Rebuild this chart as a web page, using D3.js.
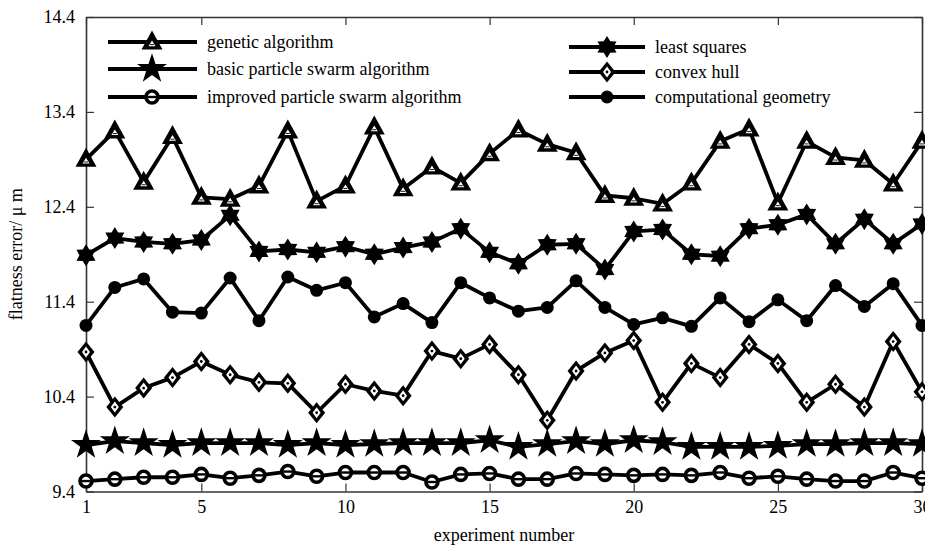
<!DOCTYPE html>
<html>
<head>
<meta charset="utf-8">
<script src="https://cdn.jsdelivr.net/npm/d3@7"></script>
<style>
  body { margin: 0; background: #fff; }
  text { font-family: "Liberation Serif", "Times New Roman", serif; fill: #000; }
</style>
</head>
<body>
<div id="chart"></div>
<script>
const experiments = d3.range(1, 31);
const xTicks = [1, 5, 10, 15, 20, 25, 30];
const yTicks = [9.4, 10.4, 11.4, 12.4, 13.4, 14.4];

const genetic = [12.90, 13.20, 12.66, 13.14, 12.50, 12.48, 12.62, 13.20, 12.46, 12.62,
  13.24, 12.59, 12.82, 12.65, 12.96, 13.21, 13.06, 12.97, 12.52, 12.49,
  12.43, 12.65, 13.09, 13.22, 12.44, 13.09, 12.92, 12.89, 12.64, 13.09];
const basicPSO = [9.89, 9.93, 9.91, 9.89, 9.91, 9.91, 9.91, 9.89, 9.91, 9.89,
  9.90, 9.91, 9.91, 9.91, 9.94, 9.87, 9.90, 9.93, 9.90, 9.94,
  9.92, 9.87, 9.87, 9.87, 9.88, 9.90, 9.90, 9.91, 9.91, 9.90];
const improvedPSO = [9.51, 9.53, 9.55, 9.55, 9.58, 9.54, 9.57, 9.61, 9.56, 9.60,
  9.60, 9.60, 9.50, 9.58, 9.59, 9.53, 9.53, 9.59, 9.58, 9.57,
  9.58, 9.57, 9.60, 9.54, 9.56, 9.53, 9.51, 9.51, 9.60, 9.54];
const leastSquares = [11.89, 12.07, 12.03, 12.01, 12.05, 12.31, 11.93, 11.95, 11.92, 11.98,
  11.90, 11.97, 12.03, 12.17, 11.92, 11.80, 12.00, 12.01, 11.74, 12.14,
  12.16, 11.90, 11.88, 12.17, 12.21, 12.32, 12.01, 12.27, 12.01, 12.22];
const convexHull = [10.87, 10.29, 10.49, 10.60, 10.77, 10.63, 10.55, 10.54, 10.23, 10.53,
  10.46, 10.41, 10.88, 10.80, 10.95, 10.63, 10.15, 10.67, 10.86, 10.99,
  10.34, 10.75, 10.60, 10.95, 10.75, 10.34, 10.53, 10.29, 10.98, 10.45];
const compGeometry = [11.15, 11.55, 11.64, 11.29, 11.28, 11.65, 11.20, 11.66, 11.52, 11.60,
  11.24, 11.38, 11.18, 11.60, 11.44, 11.30, 11.34, 11.62, 11.34, 11.16,
  11.23, 11.14, 11.44, 11.19, 11.42, 11.20, 11.57, 11.35, 11.59, 11.15];

const seriesNames = ["genetic algorithm", "basic particle swarm algorithm", "improved particle swarm algorithm",
  "least squares", "convex hull", "computational geometry"];
const seriesValues = [genetic, basicPSO, improvedPSO, leastSquares, convexHull, compGeometry];
const seriesMarkers = ["triangle", "star", "circleBar", "star6", "diamondDot", "dot"];

const width = 925, height = 548;
const margin = {top: 17, right: 3, bottom: 56.5, left: 86};

const svg = d3.select("#chart").append("svg")
  .attr("width", width)
  .attr("height", height);

const x = d3.scaleLinear().domain([1, 30]).range([margin.left, width - margin.right]);
const y = d3.scaleLinear().domain([9.4, 14.4]).range([height - margin.bottom, margin.top]);

// frame + inward ticks
const axisColor = "#333";
function styleAxis(g) {
  g.select(".domain").attr("stroke", axisColor).attr("stroke-width", 1.6);
  g.selectAll(".tick line").attr("stroke", axisColor).attr("stroke-width", 1.2);
  g.selectAll(".tick text").style("font-size", "18px").style("font-family", "Liberation Serif").attr("fill", "#000");
}

svg.append("g")
  .attr("transform", "translate(0," + y(9.4) + ")")
  .call(d3.axisBottom(x).tickValues(xTicks).tickSize(-8).tickSizeOuter(0).tickPadding(9).tickFormat(d3.format("d")))
  .call(styleAxis);

svg.append("g")
  .attr("transform", "translate(0," + y(14.4) + ")")
  .call(d3.axisTop(x).tickValues(xTicks).tickSize(-8).tickSizeOuter(0).tickFormat(""))
  .call(styleAxis);

svg.append("g")
  .attr("transform", "translate(" + x(1) + ",0)")
  .call(d3.axisLeft(y).tickValues(yTicks).tickSize(-8).tickSizeOuter(0).tickPadding(11).tickFormat(d3.format(".1f")))
  .call(styleAxis);

svg.append("g")
  .attr("transform", "translate(" + x(30) + ",0)")
  .call(d3.axisRight(y).tickValues(yTicks).tickSize(-8).tickSizeOuter(0).tickFormat(""))
  .call(styleAxis);

// axis titles
svg.append("text")
  .attr("x", (x(1) + x(30)) / 2)
  .attr("y", 541)
  .style("text-anchor", "middle")
  .style("font-size", "18px")
  .text("experiment number");

svg.append("text")
  .attr("transform", "rotate(-90)")
  .attr("x", -(y(9.4) + y(14.4)) / 2)
  .attr("y", 22)
  .style("text-anchor", "middle")
  .style("font-size", "18px")
  .text("flatness error/ \u03bc m");

// marker drawing
const star5 = d3.symbol().type(d3.symbolStar).size(280)();
function star6Path(r) {
  let pts = [];
  for (let i = 0; i < 12; i++) {
    const a = -Math.PI / 2 + i * Math.PI / 6;
    const rr = i % 2 === 0 ? r : r * 0.6;
    pts.push([rr * Math.cos(a), rr * Math.sin(a)]);
  }
  return "M" + pts.map(p => p.join(",")).join("L") + "Z";
}

function drawMarker(g, type) {
  if (type === "triangle") {
    g.append("path").attr("d", "M0,-11.5L10.5,7.5L-10.5,7.5Z").attr("fill", "#000");
    g.append("path").attr("d", "M0,-1.5L3.5,4.2L-3.5,4.2Z").attr("fill", "#fff");
    g.append("line").attr("x1", -2).attr("x2", 2).attr("y1", 2.6).attr("y2", 2.6)
      .attr("stroke", "#000").attr("stroke-width", 0.9);
  } else if (type === "star") {
    g.append("path").attr("d", star5).attr("fill", "#000");
  } else if (type === "circleBar") {
    g.append("circle").attr("r", 6).attr("fill", "#fff").attr("stroke", "#000").attr("stroke-width", 3.6);
    g.append("line").attr("x1", -4.5).attr("x2", 4.5).attr("stroke", "#000").attr("stroke-width", 2.4);
  } else if (type === "star6") {
    g.append("path").attr("d", star6Path(11)).attr("fill", "#000");
  } else if (type === "diamondDot") {
    g.append("path").attr("d", "M0,-10.5L8.5,0L0,10.5L-8.5,0Z").attr("fill", "#000");
    g.append("path").attr("d", "M0,-5.5L4,0L0,5.5L-4,0Z").attr("fill", "#fff");
    g.append("circle").attr("r", 1.4).attr("fill", "#000");
  } else if (type === "dot") {
    g.append("circle").attr("r", 6.5).attr("fill", "#000");
  }
}

const line = d3.line()
  .x((d, i) => x(experiments[i]))
  .y(d => y(d));

seriesValues.forEach(function(vals, s) {
  svg.append("path")
    .datum(vals)
    .attr("fill", "none")
    .attr("stroke", "#000")
    .attr("stroke-width", 3.8)
    .attr("stroke-linejoin", "round")
    .attr("d", line);

  svg.selectAll(null)
    .data(vals)
    .enter().append("g")
    .attr("transform", (d, i) => "translate(" + x(experiments[i]) + "," + y(d) + ")")
    .each(function() { drawMarker(d3.select(this), seriesMarkers[s]); });
});

// legend
const legendLeft = {x1: 108, x2: 197, xm: 152, tx: 207, ys: [42, 69, 97]};
const legendRight = {x1: 569, x2: 645, xm: 607, tx: 655, ys: [47, 72, 97]};

seriesNames.forEach(function(name, s) {
  const L = s < 3 ? legendLeft : legendRight;
  const ly = L.ys[s % 3];
  const g = svg.append("g");
  g.append("line")
    .attr("x1", L.x1).attr("x2", L.x2).attr("y1", ly).attr("y2", ly)
    .attr("stroke", "#000").attr("stroke-width", 3.8);
  drawMarker(g.append("g").attr("transform", "translate(" + L.xm + "," + ly + ")"), seriesMarkers[s]);
  g.append("text")
    .attr("x", L.tx).attr("y", ly)
    .attr("dy", "0.33em")
    .style("font-size", "18px")
    .text(name);
});
</script>
</body>
</html>
